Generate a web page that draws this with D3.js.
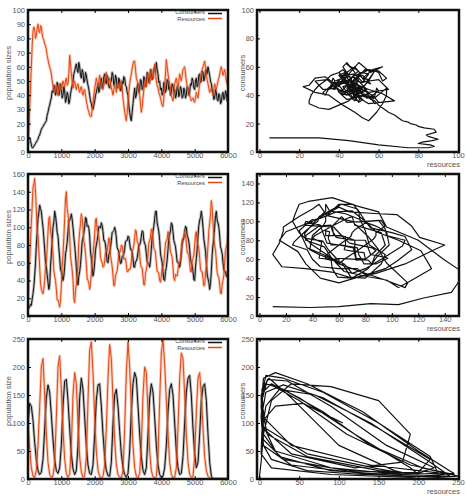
<!DOCTYPE html>
<meta charset="utf-8">
<style>
body { margin: 0; background: #fff; }
text {
    font-family: "Liberation Sans Narrow", "Arial Narrow", "Liberation Sans", sans-serif;
    font-size: 7.5px;
    fill: #555;
}
text.legend { font-size: 5.8px; fill: #444; }
path { fill: none; }
.frame { fill: none; stroke: #111; stroke-width: 2.5; }
.cons { stroke: #111; stroke-width: 1; stroke-linejoin: round; }
.res { stroke: #e8460e; stroke-width: 1; stroke-linejoin: round; }
.halo { stroke-width: 2.8; stroke-opacity: 0.3; }
.phase { stroke: #111; stroke-width: 1.2; stroke-linejoin: round; }
</style>
<svg width="466" height="496"></svg>
<script src="https://cdnjs.cloudflare.com/ajax/libs/d3/7.8.5/d3.min.js"></script>
<script>

// sample times
var times25 = d3.range(0, 6001, 25);
var times50 = d3.range(0, 6001, 50);

// run 1 : noisy equilibrium (every 25 steps)
var consumers1 = [10,10,10,8,5,3,3,4,5,6,7,8,9,11,12,14,16,17,18,19,20,
    21,22,26,28,31,33,36,38,43,42,47,46,40,43,49,47,40,42,48,45,
    38,40,46,43,35,37,42,40,34,36,41,44,47,50,55,57,60,62,58,56,
    63,60,54,52,58,56,49,50,56,54,50,47,44,40,36,34,31,30,33,36,
    40,42,45,48,42,44,50,52,45,47,53,55,50,48,54,52,46,45,49,50,
    56,54,47,48,54,52,45,46,52,50,43,44,50,48,53,52,47,46,42,40,
    33,28,24,22,28,34,40,45,38,40,46,48,42,44,51,50,44,45,53,52,
    46,48,56,55,49,50,58,57,51,52,58,60,56,63,58,55,49,50,44,45,
    40,42,49,48,42,44,51,50,44,46,40,42,48,47,42,44,38,40,46,45,
    39,41,46,44,38,39,45,43,38,40,46,45,40,42,48,47,52,50,45,44,
    50,52,46,48,54,55,49,50,57,56,50,52,57,58,55,60,57,54,50,48,
    44,42,37,38,44,42,37,36,41,40,34,35,40,42,37,38,43,41,36,38];
var resources1 = [5,15,30,45,60,75,85,88,86,80,82,87,90,85,84,89,88,83,80,79,76,
    75,72,68,65,62,60,58,55,50,47,44,42,45,47,43,40,44,48,46,44,
    47,50,48,46,50,52,47,48,55,68,62,55,50,45,48,50,46,44,47,48,
    44,42,45,46,42,40,43,44,40,36,33,30,28,26,25,25,30,35,40,45,
    48,52,49,46,50,54,50,48,45,44,47,50,53,56,52,48,50,52,48,45,
    43,40,44,47,45,42,46,48,46,44,48,50,45,38,33,28,25,22,28,35,
    42,48,52,55,59,62,64,64,58,52,50,48,44,40,34,28,32,38,44,50,
    48,46,51,55,52,48,53,58,55,52,57,62,56,50,47,45,42,40,38,35,
    33,32,38,45,55,65,60,55,51,48,44,40,38,36,42,48,50,52,48,45,
    50,55,52,50,54,58,59,60,55,50,47,45,42,40,38,36,37,38,36,35,
    38,42,40,38,43,48,52,55,58,60,62,64,60,55,51,48,45,42,43,45,
    42,40,44,48,46,44,47,50,52,55,58,60,57,54,56,58,54,50,48,46];

// run 2 : sustained noisy cycles (every 25 steps)
var consumers2 = [10,9,10,13,12,19,25,33,45,60,80,94,110,116,125,121,118,108,100,88,75,
    60,55,47,38,30,35,56,70,84,100,106,118,113,105,94,90,77,65,52,50,
    46,40,45,55,70,75,83,95,107,108,110,115,109,100,89,80,68,55,40,35,
    45,50,58,70,84,88,93,100,111,110,101,102,99,90,72,65,55,45,50,60,
    74,80,85,92,101,100,99,105,102,95,85,85,80,72,61,60,69,72,77,85,
    94,95,96,100,96,88,77,75,72,65,59,60,67,68,70,75,84,85,85,90,
    89,82,75,75,72,65,55,55,61,62,65,72,80,80,83,90,96,95,85,82,
    79,70,61,60,59,55,63,75,89,95,101,110,118,118,105,100,95,85,70,65,
    60,50,41,40,50,55,63,75,88,92,96,105,103,95,85,82,78,70,61,60,
    60,55,60,70,81,85,88,95,101,100,91,88,84,75,64,60,57,50,41,40,
    55,65,75,90,102,108,111,118,111,100,87,80,73,60,47,42,38,30,37,50,
    69,80,89,100,113,118,108,105,100,90,78,75,70,60,52,50,50,45,44,50];
var resources2 = [10,38,60,84,105,124,145,149,155,139,120,96,90,74,55,37,30,27,25,30,40,
    56,60,76,95,110,112,96,90,82,70,51,45,40,30,18,18,15,10,17,35,
    56,70,88,110,132,140,121,115,104,90,68,60,52,40,20,15,29,35,46,60,
    84,95,104,115,110,100,84,80,70,58,42,40,37,30,36,48,64,70,80,92,
    108,110,96,95,90,80,66,62,60,55,56,62,72,72,73,80,88,85,68,62,
    56,45,34,35,46,48,51,60,71,72,73,80,79,72,64,65,65,58,50,50,
    53,52,54,62,74,75,79,88,97,95,84,82,80,70,58,55,54,45,35,35,
    48,52,58,70,82,85,89,98,96,88,76,75,71,60,50,50,48,40,38,45,
    54,55,59,70,82,85,87,95,92,82,72,70,66,55,42,40,47,46,45,52,
    60,60,64,75,86,88,88,95,92,82,72,70,69,60,50,50,62,65,69,80,
    92,95,83,80,76,65,53,50,50,42,34,35,49,55,64,80,96,105,114,130,
    122,105,88,80,74,62,49,45,44,35,26,25,36,40,46,60,74,78,82,95];

// run 3 : large cycles, collapse near the end (every 50 steps)
var consumers3 = [100,135,130,105,65,35,15,8,12,35,90,
    145,168,155,115,70,35,15,10,20,60,
    130,175,178,140,90,45,18,8,15,60,
    145,180,160,110,60,25,10,8,25,80,
    140,168,170,130,80,40,15,6,5,30,
    100,150,160,130,85,45,20,8,3,10,
    50,120,170,190,180,130,80,40,15,8,
    20,80,145,170,155,110,60,25,8,3,
    5,20,60,120,160,170,150,100,50,20,
    8,10,40,100,155,180,185,150,90,45,
    20,30,80,140,165,170,140,80,30,5,
    0,0,0,0,0,0,0,0,0,0];
var resources3 = [105,55,20,5,3,15,60,130,200,215,150,
    80,30,8,3,5,30,110,200,220,160,
    90,35,10,3,8,60,150,190,170,100,
    40,12,3,5,40,140,230,245,190,110,
    50,15,5,2,5,25,90,180,240,215,
    140,70,25,8,3,2,15,90,190,245,
    200,130,60,20,5,2,10,60,150,200,
    190,120,50,15,4,2,5,40,140,225,
    250,205,140,80,30,8,2,3,20,90,
    180,225,215,150,80,30,8,3,5,40,
    120,180,190,150,90,40,15,5,2,0,
    0,0,0,0,0,0,0,0,0,0];

// axis ticks
var timeTicks = [0, 1000, 2000, 3000, 4000, 5000, 6000];
var sizeTicks1 = [0, 10, 20, 30, 40, 50, 60, 70, 80, 90, 100];
var sizeTicks2 = [0, 20, 40, 60, 80, 100, 120, 140, 160];
var sizeTicks3 = [0, 50, 100, 150, 200, 250];
var phaseTicks1 = [0, 20, 40, 60, 80, 100];
var phaseTicks2 = [0, 20, 40, 60, 80, 100, 120, 140];
var phaseTicks3 = [0, 50, 100, 150, 200, 250];

var svg = d3.select("svg");
var fmt = d3.format("d");

var leftBox = {x0: 28, x1: 228},
    rightBox = {x0: 257, x1: 459};
var rows = [{y0: 10, y1: 152}, {y0: 174, y1: 316}, {y0: 339, y1: 479}];

function addClip(id, x0, x1, y0, y1) {
    svg.append("clipPath").attr("id", id)
      .append("rect")
        .attr("x", x0).attr("y", y0)
        .attr("width", x1 - x0).attr("height", y1 - y0);
}

function addAxes(x, y, xTicks, yTicks, row, x0) {
    var gx = svg.append("g")
        .attr("transform", "translate(0," + row.y1 + ")")
        .call(d3.axisBottom(x).tickValues(xTicks).tickFormat(fmt)
            .tickSize(-3).tickPadding(1).tickSizeOuter(0));
    gx.select(".domain").remove();

    var gt = svg.append("g")
        .attr("transform", "translate(0," + row.y0 + ")")
        .call(d3.axisTop(x).tickValues(xTicks).tickSize(-3).tickFormat("").tickSizeOuter(0));
    gt.select(".domain").remove();

    var gy = svg.append("g")
        .attr("transform", "translate(" + x0 + ",0)")
        .call(d3.axisLeft(y).tickValues(yTicks).tickFormat(fmt)
            .tickSize(-3).tickPadding(3).tickSizeOuter(0));
    gy.select(".domain").remove();
}

function drawTime(r, times, cons, res, yMax, yTicks, yLabel) {
    var row = rows[r];
    var x = d3.scaleLinear().domain([0, 6000]).range([leftBox.x0, leftBox.x1]);
    var y = d3.scaleLinear().domain([0, yMax]).range([row.y1, row.y0]);
    var id = "clipT" + r;
    addClip(id, leftBox.x0, leftBox.x1, row.y0 - 1, row.y1 + 1);

    var line = d3.line()
        .x(function(d, i) { return x(times[i]); })
        .y(function(d) { return y(d); });

    var g = svg.append("g").attr("clip-path", "url(#" + id + ")");
    g.append("path").attr("class", "cons halo").attr("d", line(cons));
    g.append("path").attr("class", "cons").attr("d", line(cons));
    g.append("path").attr("class", "res halo").attr("d", line(res));
    g.append("path").attr("class", "res").attr("d", line(res));

    svg.append("rect").attr("class", "frame")
        .attr("x", leftBox.x0).attr("y", row.y0)
        .attr("width", leftBox.x1 - leftBox.x0).attr("height", row.y1 - row.y0);

    addAxes(x, y, timeTicks, yTicks, row, leftBox.x0);

    // legend
    var lx = leftBox.x1 - 23;
    svg.append("text").attr("class", "legend")
        .attr("x", lx).attr("y", row.y0 + 4.3)
        .attr("text-anchor", "end").text("Consumers");
    svg.append("text").attr("class", "legend")
        .attr("x", lx).attr("y", row.y0 + 10.8)
        .attr("text-anchor", "end").text("Resources");
    svg.append("line").attr("class", "cons").style("stroke-width", 1.5)
        .attr("x1", lx + 3).attr("x2", lx + 17)
        .attr("y1", row.y0 + 3.5).attr("y2", row.y0 + 3.5);
    svg.append("line").attr("class", "res").style("stroke-width", 1.5)
        .attr("x1", lx + 3).attr("x2", lx + 17)
        .attr("y1", row.y0 + 8.5).attr("y2", row.y0 + 8.5);

    svg.append("text")
        .attr("transform", "translate(11," + ((row.y0 + row.y1) / 2 - 8) + ") rotate(-90)")
        .attr("text-anchor", "middle")
        .text(yLabel);
}

function drawPhase(r, cons, res, max, ticks) {
    var row = rows[r];
    var x = d3.scaleLinear().domain([0, max]).range([rightBox.x0 + 2.5, rightBox.x1 - 1]);
    var y = d3.scaleLinear().domain([0, max]).range([row.y1, row.y0]);
    var id = "clipP" + r;
    addClip(id, rightBox.x0, rightBox.x1, row.y0, row.y1);

    var line = d3.line()
        .x(function(d, i) { return x(res[i]); })
        .y(function(d) { return y(d); });

    svg.append("g").attr("clip-path", "url(#" + id + ")")
      .append("path").attr("class", "phase").attr("d", line(cons));

    svg.append("rect").attr("class", "frame")
        .attr("x", rightBox.x0).attr("y", row.y0)
        .attr("width", rightBox.x1 - rightBox.x0).attr("height", row.y1 - row.y0);

    addAxes(x, y, ticks, ticks, row, rightBox.x0);

    svg.append("text")
        .attr("transform", "translate(245," + ((row.y0 + row.y1) / 2 - 8) + ") rotate(-90)")
        .attr("text-anchor", "middle")
        .text("consumers");
    svg.append("text")
        .attr("x", rightBox.x1 + 1).attr("y", row.y1 + 14.5)
        .attr("text-anchor", "end")
        .text("resources");
}

drawTime(0, times25, consumers1, resources1, 100, sizeTicks1, "population sizes");
drawTime(1, times25, consumers2, resources2, 160, sizeTicks2, "population sizes");
drawTime(2, times50, consumers3, resources3, 250, sizeTicks3, "population size");

drawPhase(0, consumers1, resources1, 100, phaseTicks1);
drawPhase(1, consumers2, resources2, 150, phaseTicks2);
drawPhase(2, consumers3, resources3, 250, phaseTicks3);

</script>
